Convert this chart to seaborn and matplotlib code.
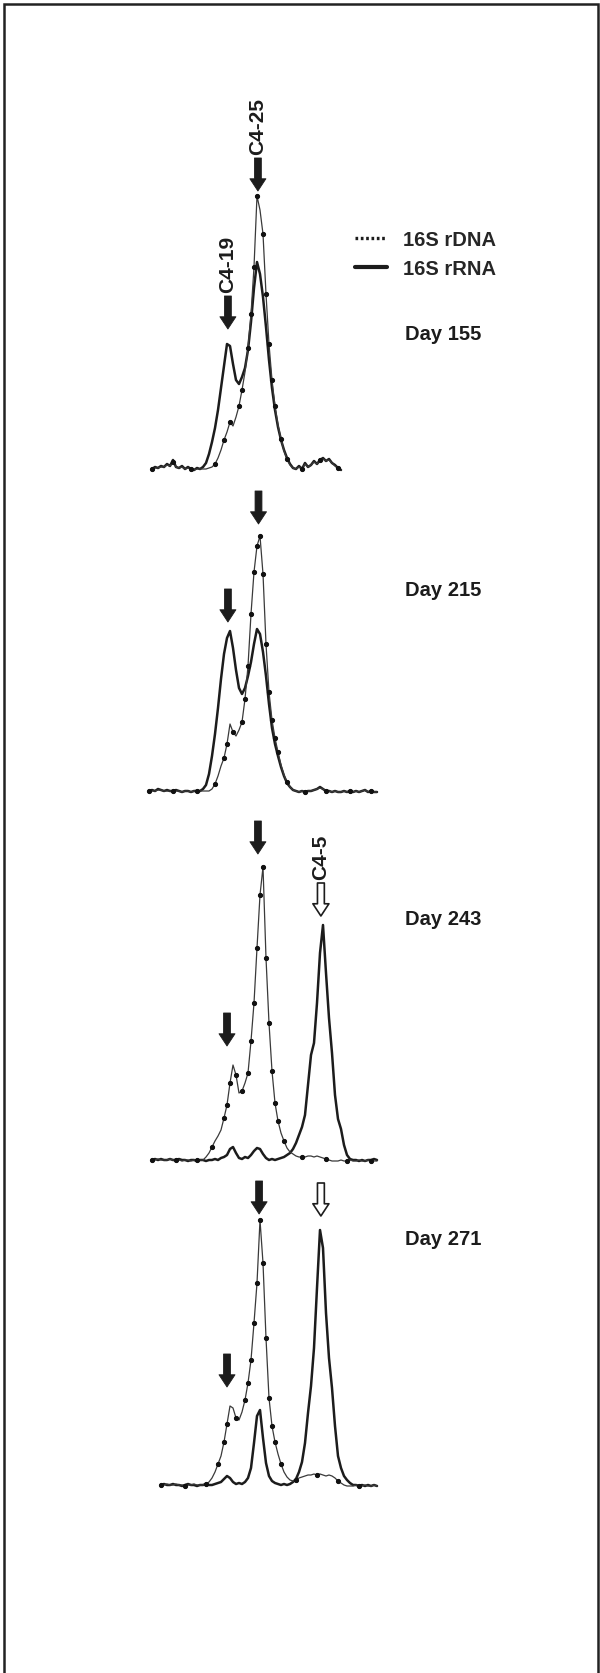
"""
Densitometric DGGE profiles: 16S rDNA vs 16S rRNA over four sampling days
"""
import matplotlib
matplotlib.use("Agg")
import matplotlib.pyplot as plt
import seaborn as sns
import pandas as pd
from matplotlib.lines import Line2D
from matplotlib.patches import Rectangle


W, H = 600, 1674

days = ["Day 155", "Day 215", "Day 243", "Day 271"]
# gel position of the first scan point in each lane
lane_start = [1, 0, 1, 4]

day155_rdna = [3, 4, 4, 5, 5, 7, 6, 10, 5, 4, 5, 3, 4, 3, 2, 3, 3, 3, 3, 4,
               5, 8, 14, 22, 32, 40, 50, 46, 55, 66, 82, 100, 124, 158, 205, 276,
               262, 238, 178, 128, 92, 66, 47, 33, 21, 13, 7, 4, 3, 5, 3, 8, 5,
               7, 10, 8, 12, 13, 11, 12, 9, 6, 4, 2]
day155_rrna = [3, 5, 4, 6, 5, 8, 6, 12, 5, 4, 6, 3, 5, 3, 2, 4, 3, 5, 9, 18,
               30, 44, 62, 84, 106, 128, 126, 108, 92, 88, 95, 104, 122, 150, 184,
               210, 198, 175, 145, 112, 84, 62, 45, 32, 22, 14, 8, 4, 3, 6, 3, 9,
               5, 7, 11, 8, 12, 14, 11, 13, 9, 7, 4, 2]

day215_rdna = [3, 3, 3, 4, 4, 3, 3, 3, 3, 3, 3, 2, 3, 3, 2, 3, 3, 3, 3, 3, 3,
               5, 10, 18, 28, 36, 50, 70, 62, 58, 64, 72, 95, 128, 180, 222, 248,
               258, 220, 150, 102, 74, 56, 42, 29, 19, 12, 7, 4, 3, 2, 3, 2, 3, 3,
               4, 5, 6, 5, 3, 3, 2, 3, 2, 2, 3, 2, 3, 2, 3, 2, 3, 4, 2, 3, 2, 2]
day215_rrna = [3, 4, 3, 5, 4, 3, 4, 3, 3, 4, 3, 2, 3, 3, 2, 3, 3, 3, 5, 9, 20,
               38, 60, 86, 115, 140, 156, 163, 146, 124, 106, 100, 106, 118, 132,
               150, 165, 160, 142, 118, 90, 66, 50, 38, 27, 18, 11, 7, 4, 3, 2, 3,
               2, 3, 3, 4, 5, 7, 5, 3, 3, 2, 3, 2, 2, 3, 2, 3, 2, 3, 2, 3, 4, 2, 3,
               2, 2]

day243_rdna = [3, 3, 4, 3, 3, 3, 4, 3, 3, 3, 2, 3, 3, 2, 3, 3, 3, 3, 6, 10, 16,
               22, 27, 33, 45, 58, 80, 98, 88, 70, 72, 80, 90, 122, 160, 215, 268,
               296, 205, 140, 92, 60, 42, 30, 22, 15, 11, 9, 7, 6, 6, 6, 7, 7, 6, 7,
               6, 5, 4, 3, 2, 2, 2, 3, 2, 2, 3, 2, 2, 3, 2, 2, 3, 2, 2, 2]
day243_rrna = [3, 4, 3, 4, 3, 3, 4, 3, 3, 4, 3, 3, 2, 3, 3, 2, 3, 3, 2, 3, 3, 4,
               3, 5, 6, 8, 14, 16, 10, 5, 4, 6, 5, 8, 12, 15, 14, 9, 5, 3, 4, 3, 4,
               5, 6, 8, 10, 14, 20, 28, 36, 48, 78, 108, 120, 160, 210, 238, 190,
               145, 110, 68, 44, 34, 18, 8, 4, 3, 3, 2, 3, 2, 3, 3, 4, 3]

day271_rdna = [3, 3, 4, 3, 3, 4, 3, 3, 2, 3, 3, 4, 3, 3, 3, 4, 6, 10, 16, 24,
               32, 46, 64, 82, 80, 70, 68, 76, 88, 105, 128, 165, 205, 268, 225,
               150, 90, 62, 46, 34, 24, 16, 11, 8, 7, 8, 10, 11, 12, 13, 13, 14,
               13, 14, 13, 12, 13, 12, 10, 7, 5, 3, 2, 2, 2, 3, 2, 2, 3, 2, 2, 3, 2]
day271_rrna = [3, 4, 3, 3, 4, 3, 3, 2, 3, 4, 3, 3, 2, 3, 3, 4, 3, 3, 4, 5, 6, 9,
               12, 10, 6, 4, 5, 4, 6, 10, 20, 45, 72, 78, 50, 25, 12, 7, 5, 4, 3, 4,
               3, 4, 6, 9, 16, 26, 45, 75, 102, 140, 200, 258, 240, 175, 130, 100,
               62, 32, 20, 12, 8, 5, 3, 3, 2, 3, 2, 3, 2, 3, 2]

rdna = [day155_rdna, day215_rdna, day243_rdna, day271_rdna]
rrna = [day155_rrna, day215_rrna, day243_rrna, day271_rrna]

# band arrows: (label, gel position, signal level of arrow tip, filled)
bands = [
    [("C4-25", 36.3, 281, True), ("C4-19", 26.3, 143, True)],
    [("", 36.5, 270, True), ("", 26.3, 172, True)],
    [("", 36.3, 309, True), ("C4-5", 57.3, 247, False), ("", 26.0, 117, True)],
    [("", 36.7, 274, True), ("", 57.3, 272, False), ("", 26.0, 101, True)],
]

# layout (pixels)
baselines = [473, 795, 1164, 1489]
day_label_y = [335, 590, 920, 1240]
ARROW_LEN = 33
INK = "#1c1c1c"


def px_axes(fig, left, top, width, height):
    return fig.add_axes([left / W, 1 - (top + height) / H, width / W, height / H])


def band_arrow(ax, x, tip, filled, label):
    ax.annotate(
        "", xy=(x, tip), xytext=(x, tip + ARROW_LEN),
        arrowprops=dict(
            arrowstyle="simple,head_length=0.8,head_width=1.05,tail_width=0.45",
            mutation_scale=11, shrinkA=0, shrinkB=0,
            fc=INK if filled else "white", ec=INK, lw=0.6 if filled else 1.2,
        ),
        annotation_clip=False,
    )
    if label:
        ax.text(x, tip + ARROW_LEN + 4, label, rotation=90, ha="center",
                va="bottom", fontsize=15, fontweight="bold", color=INK)


def main():
    sns.set_style("white")
    plt.rcParams["font.family"] = ["Liberation Sans", "DejaVu Sans"]

    fig = plt.figure(figsize=(W / 100, H / 100), dpi=100)

    for k, day in enumerate(days):
        n = len(rdna[k])
        df = pd.DataFrame({
            "position": list(range(lane_start[k], lane_start[k] + n)) * 2,
            "signal": rdna[k] + rrna[k],
            "template": ["16S rDNA"] * n + ["16S rRNA"] * len(rrna[k]),
        })
        ax = px_axes(fig, 140, baselines[k] - 390, 249, 405)
        ax.patch.set_alpha(0)

        sns.lineplot(data=df[df.template == "16S rRNA"], x="position", y="signal",
                     ax=ax, color=INK, lw=1.8, estimator=None, errorbar=None)
        sns.lineplot(data=df[df.template == "16S rDNA"], x="position", y="signal",
                     ax=ax, color="#3a3a3a", lw=0.9, marker="o", markersize=3,
                     markerfacecolor="#111111", markeredgecolor="#111111",
                     markevery=0.05, estimator=None, errorbar=None)

        for label, x, tip, filled in bands[k]:
            band_arrow(ax, x, tip, filled, label)

        ax.set_xlim(-3, 80)
        ax.set_ylim(-15, 390)
        ax.axis("off")

        fig.text(405 / W, 1 - day_label_y[k] / H, day, ha="left", va="center",
                 fontsize=14.5, fontweight="bold", color=INK)

    handles = [
        Line2D([], [], color=INK, lw=2.4, linestyle=(0, (0.8, 0.8))),
        Line2D([], [], color=INK, lw=3),
    ]
    fig.legend(handles, ["16S rDNA", "16S rRNA"], loc="upper left",
               bbox_to_anchor=(355 / W, 1 - 231 / H), bbox_transform=fig.transFigure,
               frameon=False, prop=dict(size=14.5, weight="bold"),
               handlelength=1.6, handletextpad=0.8, labelspacing=0.5,
               borderpad=0, borderaxespad=0)

    # frame around the figure (bottom edge runs off the page)
    fig.add_artist(Rectangle((4 / W, -0.02), 594 / W, 1.02 - 5 / H,
                             transform=fig.transFigure, fill=False,
                             ec="#222222", lw=1.8))

    fig.savefig("out.png", dpi=100)
    plt.close(fig)


if __name__ == "__main__":
    main()
